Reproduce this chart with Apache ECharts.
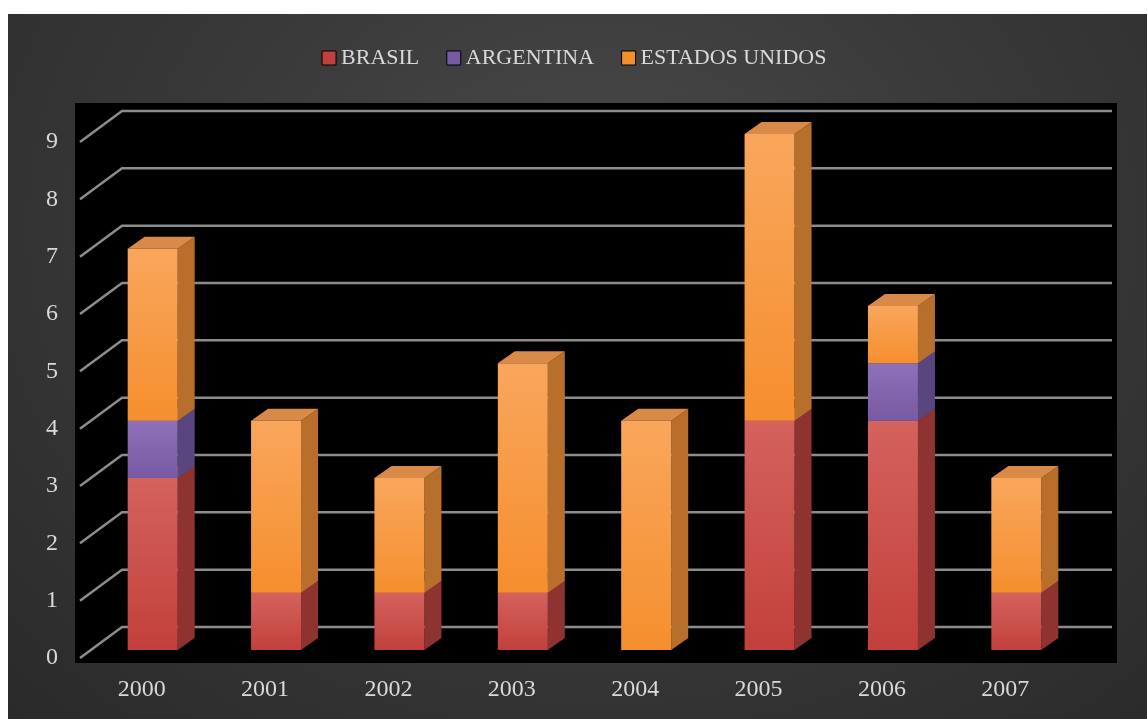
<!DOCTYPE html>
<html>
<head>
<meta charset="utf-8">
<script src="https://cdn.jsdelivr.net/npm/echarts@6/dist/echarts.min.js"></script>
<style>
  html, body { margin: 0; padding: 0; background: #fff; }
  #panel {
    position: absolute; left: 8px; top: 14px; width: 1139px; height: 705px;
    background: radial-gradient(ellipse at 52% 30%, #4a4a4a 0%, #3a3a3a 45%, #2a2a2a 100%);
  }
  #chart { position: absolute; left: 0; top: 0; width: 1148px; height: 719px; }
</style>
</head>
<body>
<div id="panel"></div>
<div id="chart"></div>
<script>
const years = ['2000', '2001', '2002', '2003', '2004', '2005', '2006', '2007'];
const brasil = [3, 1, 1, 1, 0, 4, 4, 1];
const argentina = [1, 0, 0, 0, 0, 0, 1, 0];
const estadosUnidos = [3, 3, 2, 4, 4, 5, 1, 2];
const yTicks = [0, 1, 2, 3, 4, 5, 6, 7, 8, 9];

// perspective offsets (px)
const WALL_X = 42, WALL_Y = -31;   // back wall vs front plane
const OFF_X = 11, OFF_Y = -8;      // bar front face vs front plane
const BAR_W = 50, DEP_X = 17, DEP_Y = -12;

// stack helper: rows of [category, base, top]
const stackRows = (vals, below) => vals.map((v, i) => {
    const base = below.reduce((s, arr) => s + arr[i], 0);
    return [i, base, base + v];
});

const faces = {
    BRASIL: { front: ['#d4625d', '#c2403b'], side: '#8e3330', top: '#b54a45' },
    ARGENTINA: { front: ['#8e71b8', '#7859a3'], side: '#5a467f', top: '#6c5595' },
    'ESTADOS UNIDOS': { front: ['#f9a65c', '#f58f2e'], side: '#b96f2c', top: '#d98a48' }
};

const barSeries = (name, rows) => ({
    name: name,
    type: 'custom',
    z: 3,
    itemStyle: { color: faces[name].front[1] },
    encode: { x: 0, y: [1, 2] },
    data: rows,
    renderItem: (params, api) => {
        const lo = api.value(1), hi = api.value(2);
        if (hi <= lo) return;
        const cat = api.value(0);
        const pb = api.coord([cat, lo]);
        const pt = api.coord([cat, hi]);
        const x0 = pb[0] + OFF_X - BAR_W / 2, x1 = x0 + BAR_W;
        const yb = pb[1] + OFF_Y, yt = pt[1] + OFF_Y;
        const f = faces[name];
        return {
            type: 'group',
            children: [
                { type: 'polygon', shape: { points: [[x1, yb], [x1, yt], [x1 + DEP_X, yt + DEP_Y], [x1 + DEP_X, yb + DEP_Y]] },
                  style: { fill: f.side } },
                { type: 'polygon', shape: { points: [[x0, yt], [x1, yt], [x1 + DEP_X, yt + DEP_Y], [x0 + DEP_X, yt + DEP_Y]] },
                  style: { fill: f.top } },
                { type: 'rect', shape: { x: x0, y: yt, width: BAR_W, height: yb - yt },
                  style: { fill: new echarts.graphic.LinearGradient(0, 0, 0, 1, [
                      { offset: 0, color: f.front[0] }, { offset: 1, color: f.front[1] }]) } }
            ]
        };
    }
});

const chart = echarts.init(document.getElementById('chart'));
const option = {
    backgroundColor: 'transparent',
    textStyle: { fontFamily: 'Liberation Serif', color: '#d9d9d9' },
    graphic: [{
        type: 'rect', z: -10, silent: true,
        shape: { x: 75, y: 103, width: 1042, height: 560 },
        style: { fill: '#000' }
    }],
    legend: {
        top: 42,
        left: 'center',
        icon: 'rect',
        itemWidth: 14,
        itemHeight: 14,
        itemGap: 27,
        textStyle: { color: '#d9d9d9', fontSize: 22, fontFamily: 'Liberation Serif', padding: [2, 0, 0, 0] },
        itemStyle: { borderColor: '#000', borderWidth: 1 },
        data: ['BRASIL', 'ARGENTINA', 'ESTADOS UNIDOS']
    },
    grid: { left: 80, right: 81, top: 142, bottom: 61 },
    xAxis: {
        type: 'category',
        data: years,
        axisLine: { show: false },
        axisTick: { show: false },
        axisLabel: { color: '#d9d9d9', fontSize: 24, margin: 20, fontFamily: 'Liberation Serif' }
    },
    yAxis: {
        type: 'value',
        min: 0,
        max: 9,
        interval: 1,
        axisLine: { show: false },
        axisTick: { show: false },
        splitLine: { show: false },
        axisLabel: { color: '#d9d9d9', fontSize: 24, margin: 22, fontFamily: 'Liberation Serif' }
    },
    series: [
        {
            name: 'grid',
            type: 'custom',
            z: 1,
            silent: true,
            encode: { x: 0, y: 1 },
            data: yTicks.map(v => [0, v]),
            renderItem: (params, api) => {
                const cs = params.coordSys;
                const y = api.coord([0, api.value(1)])[1];
                return {
                    type: 'polyline',
                    shape: { points: [[cs.x, y], [cs.x + WALL_X, y + WALL_Y], [cs.x + cs.width + WALL_X + 3, y + WALL_Y]] },
                    style: { stroke: '#8c8c8c', lineWidth: 2.5, fill: null }
                };
            }
        },
        barSeries('BRASIL', stackRows(brasil, [])),
        barSeries('ARGENTINA', stackRows(argentina, [brasil])),
        barSeries('ESTADOS UNIDOS', stackRows(estadosUnidos, [brasil, argentina]))
    ]
};
chart.setOption(option);
window.addEventListener('resize', () => chart.resize());
</script>
</body>
</html>
